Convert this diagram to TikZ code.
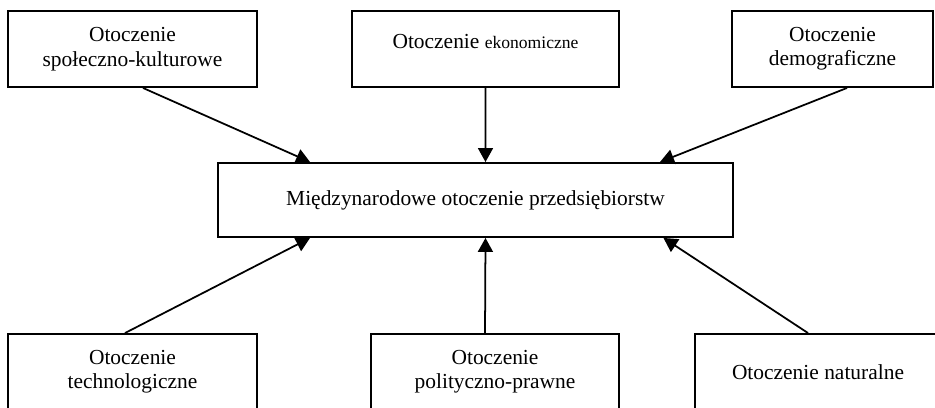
\documentclass[tikz,border=0pt]{standalone}
\usepackage{fontspec}
\setmainfont{Liberation Serif}
\usetikzlibrary{arrows.meta}
\tikzstyle{box} = [rectangle, draw=black, line width=1.1pt, minimum height=1.52cm, inner sep=2pt, align=center, font=\fontsize{12.2}{13.9}\selectfont]
\tikzstyle{arrow} = [line width=1pt,-{Triangle[length=0.28cm,width=0.3cm]}]

\begin{document}
\begin{tikzpicture}[x=0.02cm, y=-0.02cm]
    \clip (0,0) rectangle (935,408);
    \node (soc) [box, minimum width=4.98cm] at (132.5,49) {Otoczenie\\społeczno-kulturowe};
    \node (eko) [box, minimum width=5.34cm] at (485.5,49) {Otoczenie {\fontsize{10}{12}\selectfont ekonomiczne}\rule[-9pt]{0pt}{1pt}};
    \node (demo) [box, minimum width=4.02cm] at (832.5,49) {Otoczenie\\demograficzne};
    \node (centrum) [box, minimum width=10.3cm, minimum height=1.48cm] at (475.5,200) {Międzynarodowe otoczenie przedsiębiorstw};
    \node (tech) [box, minimum width=4.98cm] at (132.5,372) {Otoczenie\\technologiczne};
    \node (pol) [box, minimum width=4.96cm] at (495,372) {Otoczenie\\polityczno-prawne};
    \node (nat) [box, minimum width=4.92cm] at (818,372) {Otoczenie naturalne};
    \draw [arrow] ([xshift=0.21cm]soc.south) -- ([xshift=-3.31cm]centrum.north);
    \draw [arrow] (eko.south) -- ([xshift=0.2cm]centrum.north);
    \draw [arrow] ([xshift=0.29cm]demo.south) -- ([xshift=3.69cm]centrum.north);
    \draw [arrow] ([xshift=-0.15cm]tech.north) -- ([xshift=-3.31cm]centrum.south);
    \draw [arrow] ([xshift=-0.2cm]pol.north) -- ([xshift=0.2cm]centrum.south);
    \draw [arrow] ([xshift=-0.2cm]nat.north) -- ([xshift=3.76cm]centrum.south);
\end{tikzpicture}
\end{document}
